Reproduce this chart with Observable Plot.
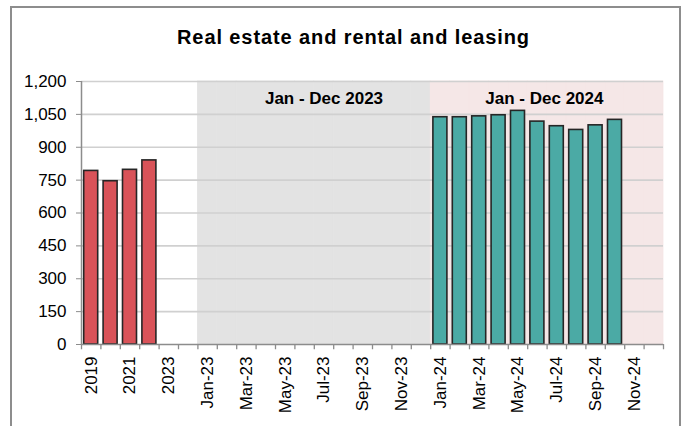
<!DOCTYPE html>
<html>
<head>
<meta charset="utf-8">
<script src="https://cdn.jsdelivr.net/npm/d3@7"></script>
<script src="https://cdn.jsdelivr.net/npm/@observablehq/plot@0.6"></script>
<style>
  html, body { margin: 0; padding: 0; background: #fff; overflow: hidden; width: 686px; height: 426px; }
  #frame { position: absolute; left: 10px; top: 6px; width: 671px; height: 440px; border: 2px solid #8d8d8d; box-sizing: border-box; }
  #title { position: absolute; left: 0; top: 25px; width: 707px; text-align: center; font: bold 20px "Liberation Sans", Arial, sans-serif; line-height: 24px; letter-spacing: 0.9px; color: #000; }
  #chart { position: absolute; left: 0; top: 70px; }
</style>
</head>
<body>
<div id="frame"></div>
<div id="title">Real estate and rental and leasing</div>
<div id="chart"></div>
<script>
// ---- data ----
const annualLabels = ["2019", "2020", "2021", "2022", "2023"];
const annualValues = [792, 745, 797, 840, null];
const spacerLabels = [" "];
const months2023 = ["Jan-23","Feb-23","Mar-23","Apr-23","May-23","Jun-23","Jul-23","Aug-23","Sep-23","Oct-23","Nov-23","Dec-23"];
const values2023 = [null, null, null, null, null, null, null, null, null, null, null, null];
const months2024 = ["Jan-24","Feb-24","Mar-24","Apr-24","May-24","Jun-24","Jul-24","Aug-24","Sep-24","Oct-24","Nov-24","Dec-24"];
const values2024 = [1037, 1037, 1041, 1046, 1066, 1017, 996, 979, 1000, 1025, null, null];
const xTickLabels = ["2019","2021","2023","Jan-23","Mar-23","May-23","Jul-23","Sep-23","Nov-23","Jan-24","Mar-24","May-24","Jul-24","Sep-24","Nov-24"];
const yTicks = [0, 150, 300, 450, 600, 750, 900, 1050, 1200];
const periodLabels = ["Jan - Dec 2023", "Jan - Dec 2024"];

// ---- build table ----
const categories = [...annualLabels, ...spacerLabels, ...months2023, ...months2024];
const rows = [
  ...annualLabels.map((c, i) => ({cat: c, value: annualValues[i], group: "annual"})),
  ...months2023.map((c, i) => ({cat: c, value: values2023[i], group: "monthly"})),
  ...months2024.map((c, i) => ({cat: c, value: values2024[i], group: "monthly"}))
].filter(d => d.value != null);

const W = 686, H = 356, mL = 81, mR = 23, mT = 11, mB = 82;
const step = (W - mL - mR) / categories.length;
const font = '"Liberation Sans", Arial, sans-serif';
const axisGray = "#8c8c8c";
const gridGray = "#d0d0d0";

const chart = Plot.plot({
  width: W,
  height: H,
  marginLeft: mL,
  marginRight: mR,
  marginTop: mT,
  marginBottom: mB,
  style: {fontFamily: font, fontSize: "17px", color: "#000", background: "transparent", overflow: "visible"},
  x: {type: "band", domain: categories, padding: 0, round: false, axis: null},
  y: {domain: [0, 1200], axis: null},
  marks: [
    // shaded period backgrounds
    Plot.barY(months2023, {x: d => d, y: 1200, fill: "#e3e3e3", stroke: "#e3e3e3", strokeWidth: 0.8}),
    Plot.barY(months2024, {x: d => d, y: 1200, fill: "#f5e7e7", stroke: "#f5e7e7", strokeWidth: 0.8}),
    // gridlines
    Plot.ruleY(yTicks.filter(v => v > 0), {stroke: gridGray, strokeWidth: 1.6}),
    // period labels
    Plot.text([periodLabels[0]], {x: () => "Jul-23", y: 1200, dy: 17, text: d => d, fontWeight: "bold", fontSize: 17, fill: "#000"}),
    Plot.text([periodLabels[1]], {x: () => "Jun-24", y: 1200, dy: 17, dx: 7, text: d => d, fontWeight: "bold", fontSize: 17, fill: "#000"}),
    // bars
    Plot.barY(rows, {
      x: "cat", y: "value",
      fill: d => d.group === "annual" ? "#d95359" : "#4baaa5",
      stroke: "#262626", strokeWidth: 1.6,
      insetLeft: 2.7, insetRight: 2.7
    }),
    // axis lines
    Plot.ruleY([0], {stroke: axisGray, strokeWidth: 1.5}),
    Plot.ruleX([categories[0]], {x: d => d, dx: -step / 2, stroke: axisGray, strokeWidth: 1.5}),
    // x boundary ticks
    Plot.ruleX(categories, {x: d => d, y1: 0, y2: -24, dx: -step / 2, stroke: axisGray, strokeWidth: 1.3}),
    Plot.ruleX([categories[categories.length - 1]], {x: d => d, y1: 0, y2: -24, dx: step / 2, stroke: axisGray, strokeWidth: 1.3}),
    // y axis
    Plot.axisY({ticks: yTicks, tickSize: 5, tickPadding: 10, tickFormat: d3.format(","), stroke: axisGray, fontSize: 17, fill: "#000", label: null}),
    // x axis labels
    Plot.axisX({ticks: xTickLabels, tickSize: 0, tickPadding: 12, tickRotate: -90, fontSize: 17, fill: "#000", label: null})
  ]
});
document.getElementById("chart").appendChild(chart);
</script>
</body>
</html>
